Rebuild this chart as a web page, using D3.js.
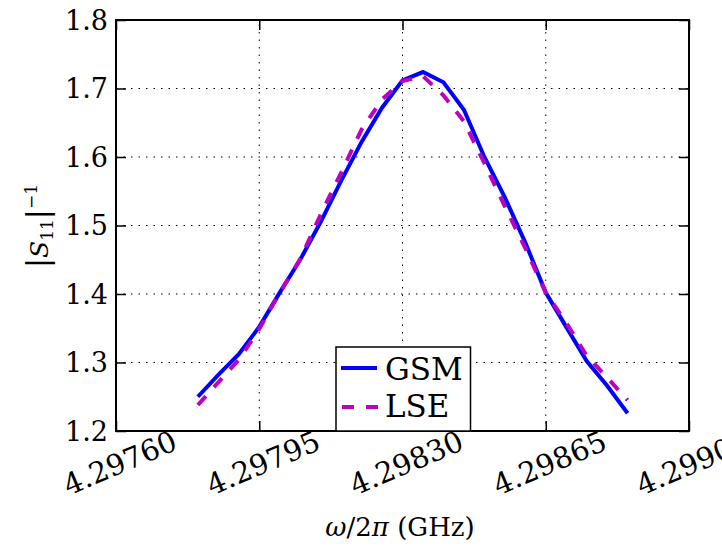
<!DOCTYPE html>
<html>
<head>
<meta charset="utf-8">
<script src="https://cdn.jsdelivr.net/npm/d3@7"></script>
<style>
  body { margin: 0; background: #fff; }
  svg { display: block; font-family: "DejaVu Serif", serif; }
</style>
</head>
<body>
<div id="chart"></div>
<script>
// frequency (GHz), 50 kHz steps
var freq = [4.29780, 4.29785, 4.29790, 4.29795, 4.29800, 4.29805, 4.29810, 4.29815,
            4.29820, 4.29825, 4.29830, 4.29835, 4.29840, 4.29845, 4.29850, 4.29855,
            4.29860, 4.29865, 4.29870, 4.29875, 4.29880, 4.29885];
var gsm = [1.250, 1.282, 1.312, 1.352, 1.402, 1.450, 1.505, 1.565, 1.622, 1.672, 1.712,
           1.724, 1.709, 1.669, 1.600, 1.541, 1.475, 1.402, 1.352, 1.302, 1.266, 1.226];
var lse = [1.238, 1.271, 1.304, 1.349, 1.402, 1.451, 1.516, 1.577, 1.640, 1.684, 1.711,
           1.718, 1.690, 1.652, 1.591, 1.528, 1.467, 1.402, 1.358, 1.310, 1.278, 1.245];
var xTicks = [4.29760, 4.29795, 4.29830, 4.29865, 4.29900];
var yTicks = [1.2, 1.3, 1.4, 1.5, 1.6, 1.7, 1.8];

var W = 722, H = 546;
var margin = {top: 20, right: 33, bottom: 115, left: 116};

var svg = d3.select('#chart').append('svg')
  .attr('width', W)
  .attr('height', H);

var x = d3.scaleLinear()
  .domain([4.2976, 4.2990])
  .range([margin.left, W - margin.right]);
var y = d3.scaleLinear()
  .domain([1.2, 1.8])
  .range([H - margin.bottom, margin.top]);

var x0 = margin.left, x1 = W - margin.right;
var y0 = H - margin.bottom, y1 = margin.top;

// grid lines
var grid = svg.append('g')
  .attr('stroke', '#000')
  .attr('stroke-width', 1)
  .attr('stroke-dasharray', '1.5,6');
grid.selectAll('.gx')
  .data(xTicks.slice(1, -1))
  .enter().append('line')
    .attr('x1', d => x(d)).attr('x2', d => x(d))
    .attr('y1', y0).attr('y2', y1);
grid.selectAll('.gy')
  .data(yTicks.slice(1, -1))
  .enter().append('line')
    .attr('x1', x0).attr('x2', x1)
    .attr('y1', d => y(d)).attr('y2', d => y(d));

// ticks on all four sides, pointing inwards
function tickStyle(g) {
  g.select('.domain').remove();
  g.selectAll('.tick line').attr('stroke', '#000').attr('stroke-width', 1.5);
  g.selectAll('.tick text').remove();
}
svg.append('g').attr('transform', `translate(0,${y0})`)
  .call(d3.axisBottom(x).tickValues(xTicks).tickSize(-10)).call(tickStyle);
svg.append('g').attr('transform', `translate(0,${y1})`)
  .call(d3.axisTop(x).tickValues(xTicks).tickSize(-10)).call(tickStyle);
svg.append('g').attr('transform', `translate(${x0},0)`)
  .call(d3.axisLeft(y).tickValues(yTicks).tickSize(-10)).call(tickStyle);
svg.append('g').attr('transform', `translate(${x1},0)`)
  .call(d3.axisRight(y).tickValues(yTicks).tickSize(-10)).call(tickStyle);

// tick labels
svg.selectAll('.ylab')
  .data(yTicks)
  .enter().append('text')
    .attr('x', x0 - 8)
    .attr('y', d => y(d))
    .attr('text-anchor', 'end')
    .attr('dominant-baseline', 'central')
    .style('font-size', '27px')
    .text(d => d.toFixed(1));

svg.selectAll('.xlab')
  .data(xTicks)
  .enter().append('text')
    .attr('transform', d => `translate(${x(d) + 4},${y0 + 32}) rotate(-23)`)
    .attr('text-anchor', 'middle')
    .attr('dominant-baseline', 'central')
    .style('font-size', '29px')
    .text(d => d.toFixed(5));

// data lines
var line = d3.line()
  .x((d, i) => x(freq[i]))
  .y(d => y(d));

svg.append('path')
  .datum(gsm)
  .attr('fill', 'none')
  .attr('stroke', '#0000ff')
  .attr('stroke-width', 4)
  .attr('d', line);

svg.append('path')
  .datum(lse)
  .attr('fill', 'none')
  .attr('stroke', '#bf00bf')
  .attr('stroke-width', 4)
  .attr('stroke-dasharray', '12,12')
  .attr('d', line);

// frame
svg.append('rect')
  .attr('x', x0).attr('y', y1)
  .attr('width', x1 - x0).attr('height', y0 - y1)
  .attr('fill', 'none')
  .attr('stroke', '#000')
  .attr('stroke-width', 2);

// legend
var leg = svg.append('g');
leg.append('rect')
  .attr('x', 336).attr('y', 347)
  .attr('width', 134.5).attr('height', y0 - 347)
  .attr('fill', '#fff')
  .attr('stroke', '#000')
  .attr('stroke-width', 1.5);
leg.append('line')
  .attr('x1', 341).attr('x2', 377).attr('y1', 368).attr('y2', 368)
  .attr('stroke', '#0000ff').attr('stroke-width', 4);
leg.append('line')
  .attr('x1', 342).attr('x2', 378).attr('y1', 407).attr('y2', 407)
  .attr('stroke', '#bf00bf').attr('stroke-width', 4)
  .attr('stroke-dasharray', '12,12');
leg.append('text').attr('x', 385).attr('y', 380)
  .style('font-size', '31px').text('GSM');
leg.append('text').attr('x', 385).attr('y', 417)
  .style('font-size', '31px').text('LSE');

// axis titles
var xt = svg.append('text')
  .attr('x', 400).attr('y', 536)
  .attr('text-anchor', 'middle')
  .style('font-size', '26px');
xt.append('tspan').style('font-style', 'italic').text('ω');
xt.append('tspan').text('/2');
xt.append('tspan').style('font-style', 'italic').text('π');
xt.append('tspan').text(' (GHz)');

var yt = svg.append('text')
  .attr('transform', 'translate(48,226) rotate(-90)')
  .attr('text-anchor', 'middle')
  .style('font-size', '25px');
yt.append('tspan').style('font-size', '30px').text('|');
yt.append('tspan').style('font-style', 'italic').text('S');
yt.append('tspan').attr('dy', 5).style('font-size', '17px').text('11');
yt.append('tspan').attr('dy', -5).style('font-size', '30px').text('|');
yt.append('tspan').attr('dy', -11).style('font-size', '17px').text('−1');
</script>
</body>
</html>
